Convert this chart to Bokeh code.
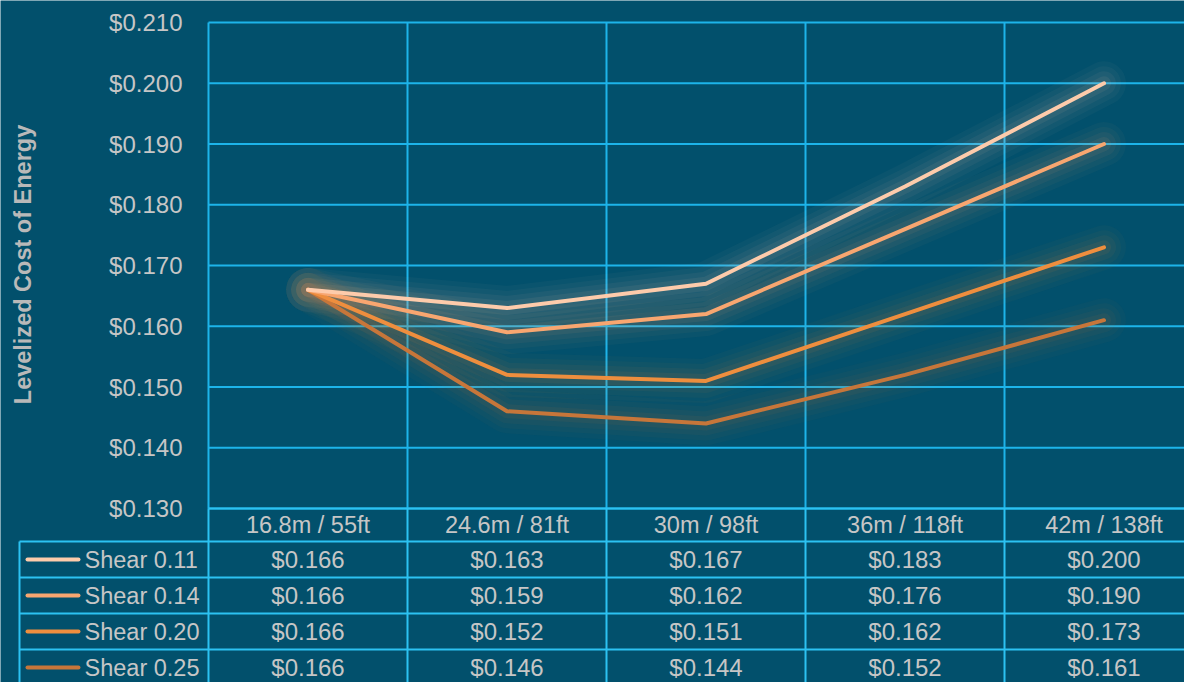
import numpy as np
from bokeh.plotting import figure
from bokeh.models import Range1d
from bokeh.core.properties import value
from bokeh.embed import file_html
from bokeh.resources import INLINE

# ---------------- data ----------------
categories = ["16.8m / 55ft", "24.6m / 81ft", "30m / 98ft", "36m / 118ft", "42m / 138ft"]
series_names = ["Shear 0.11", "Shear 0.14", "Shear 0.20", "Shear 0.25"]
shear_011 = [0.166, 0.163, 0.167, 0.183, 0.200]
shear_014 = [0.166, 0.159, 0.162, 0.176, 0.190]
shear_020 = [0.166, 0.152, 0.151, 0.162, 0.173]
shear_025 = [0.166, 0.146, 0.144, 0.152, 0.161]
series_values = [shear_011, shear_014, shear_020, shear_025]
y_ticks = [0.13, 0.14, 0.15, 0.16, 0.17, 0.18, 0.19, 0.20, 0.21]
axis_title = "Levelized Cost of Energy"

# ---------------- styles ----------------
BG = "#02506c"
GRID = "#1db4ea"
TABLE_LINE = "#2cc2f2"
TEXT = "#c6c6c6"
TITLE_COLOR = "#b9b9b9"
colors = ["#fdcbab", "#f8a670", "#ee8e3e", "#c7763a"]
FONT = value("Liberation Sans")
FS = "23.5px"

# ---------------- layout (pixels) ----------------
W, H = 1184, 682
FRAME_LEFT = 208
COL_W = 199
Y_TOP_PX, Y_BOT_PX = 22, 508
Y_TOP_VAL, Y_BOT_VAL = y_ticks[-1], y_ticks[0]
PPU = (Y_BOT_PX - Y_TOP_PX) / (Y_TOP_VAL - Y_BOT_VAL)


def xd(px):
    return (px - FRAME_LEFT) / COL_W


def yd(px):
    return Y_TOP_VAL - (px - Y_TOP_PX) / PPU


ROW_TOP = 541
ROW_H = 36
HEADER_TOP = (Y_BOT_PX - ROW_TOP) / ROW_H
t_bottom = (H - ROW_TOP) / ROW_H
t_top = -ROW_TOP / ROW_H

ncat = len(categories)
xc = [i + 0.5 for i in range(ncat)]

p = figure(width=W, height=H,
           x_range=Range1d(xd(0), xd(W)),
           y_range=Range1d(yd(H), yd(0)),
           output_backend="svg", toolbar_location=None,
           min_border=0, x_axis_location=None, y_axis_location=None)
p.extra_y_ranges = {"table": Range1d(start=t_bottom, end=t_top)}
p.background_fill_color = BG
p.border_fill_color = BG
p.outline_line_color = None
p.xgrid.visible = False
p.ygrid.visible = False

# horizontal gridlines
p.segment(x0=[0] * len(y_ticks), x1=[ncat] * len(y_ticks), y0=y_ticks, y1=y_ticks,
          line_color=GRID, line_width=2)
# vertical gridlines (plot area)
vx = list(range(ncat + 1))
p.segment(x0=vx, x1=vx, y0=[Y_BOT_VAL] * len(vx), y1=[Y_TOP_VAL] * len(vx),
          line_color=GRID, line_width=2)
# vertical table lines
p.segment(x0=vx, x1=vx, y0=[HEADER_TOP] * len(vx), y1=[t_bottom] * len(vx),
          line_color=TABLE_LINE, line_width=2, y_range_name="table")
# table header top line
p.segment(x0=[0], x1=[ncat], y0=[HEADER_TOP], y1=[HEADER_TOP],
          line_color=TABLE_LINE, line_width=2, y_range_name="table")
# row lines
rows = list(range(len(series_names) + 1))
p.segment(x0=[xd(19)] * len(rows), x1=[ncat] * len(rows), y0=rows, y1=rows,
          line_color=TABLE_LINE, line_width=2, y_range_name="table")
# legend column left border
p.segment(x0=[xd(19)], x1=[xd(19)], y0=[0], y1=[t_bottom],
          line_color=TABLE_LINE, line_width=2, y_range_name="table")

# glow (soft, wide, low alpha)
for vals, c in zip(series_values, colors):
    for lw, a in [(44, 0.035), (34, 0.04), (24, 0.05), (14, 0.07)]:
        p.line(xc, vals, line_color=c, line_width=lw, line_alpha=a,
               line_join="round", line_cap="round")
# lines (draw lower series first)
for vals, c in reversed(list(zip(series_values, colors))):
    p.line(xc, vals, line_color=c, line_width=4, line_join="round", line_cap="round")

# y tick labels
p.text(x=[xd(182)] * len(y_ticks), y=y_ticks, text=[f"${v:.3f}" for v in y_ticks],
       text_align="right", text_baseline="middle", text_color=TEXT,
       text_font=FONT, text_font_size="24px")

# axis title
p.text(x=[xd(22)], y=[yd(264)], text=[axis_title], angle=np.pi / 2,
       text_align="center", text_baseline="middle", text_color=TITLE_COLOR,
       text_font=FONT, text_font_size="23.5px", text_font_style="bold")

# header
p.text(x=xc, y=[HEADER_TOP / 2] * ncat, text=categories,
       text_align="center", text_baseline="middle", text_color=TEXT,
       text_font=FONT, text_font_size=FS, y_range_name="table")

# cells, legend
for r, (name, vals, c) in enumerate(zip(series_names, series_values, colors)):
    p.text(x=xc, y=[r + 0.5] * ncat, text=[f"${v:.3f}" for v in vals],
           text_align="center", text_baseline="middle", text_color=TEXT,
           text_font=FONT, text_font_size="24px", y_range_name="table")
    p.segment(x0=[xd(27)], x1=[xd(78)], y0=[r + 0.5], y1=[r + 0.5],
              line_color=c, line_width=4, line_cap="round", y_range_name="table")
    p.text(x=[xd(84)], y=[r + 0.5], text=[name],
           text_align="left", text_baseline="middle", text_color=TEXT,
           text_font=FONT, text_font_size=FS, y_range_name="table")

open("out.html", "w").write(file_html(p, INLINE))
